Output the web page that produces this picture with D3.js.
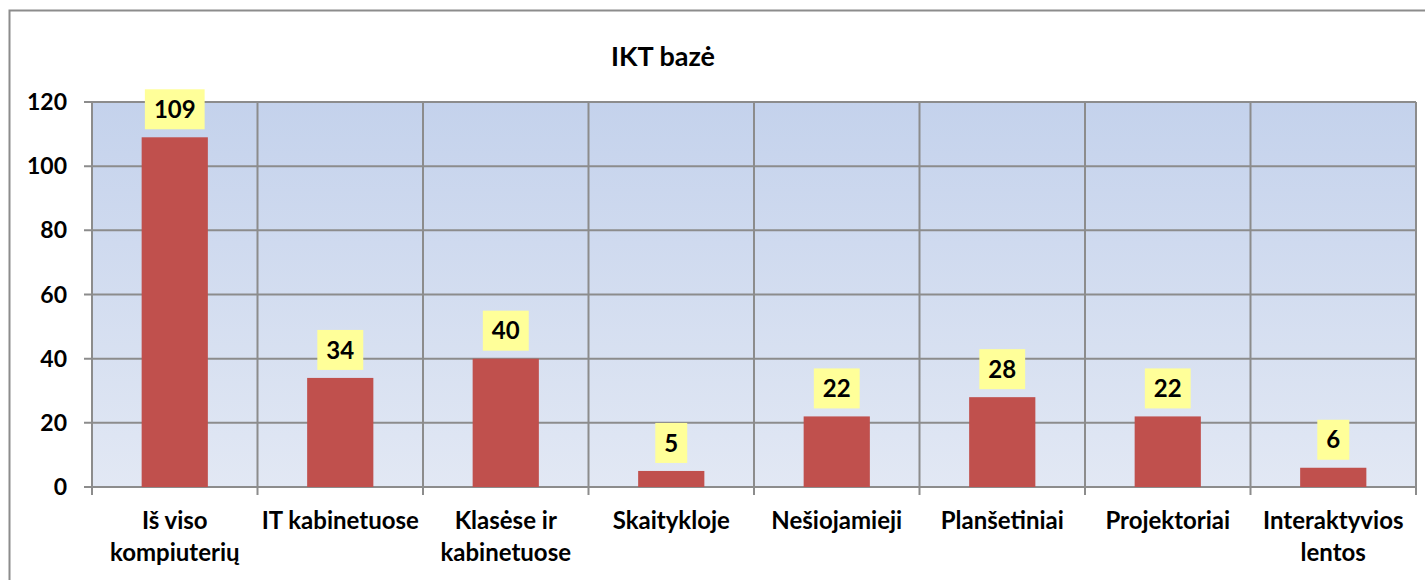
<!DOCTYPE html>
<html>
<head>
<meta charset="utf-8">
<script src="https://cdn.jsdelivr.net/npm/d3@7"></script>
<style>
  body { margin: 0; background: #fff; }
  text { font-family: Lato, "Open Sans", sans-serif; font-weight: bold; fill: #000; }
</style>
</head>
<body>
<div id="chart-area"></div>
<script>
// Data
let categories = [
  ['Iš viso', 'kompiuterių'],
  ['IT kabinetuose'],
  ['Klasėse ir', 'kabinetuose'],
  ['Skaitykloje'],
  ['Nešiojamieji'],
  ['Planšetiniai'],
  ['Projektoriai'],
  ['Interaktyvios', 'lentos']
]
let values = [109, 34, 40, 5, 22, 28, 22, 6]
let yTicks = [0, 20, 40, 60, 80, 100, 120]
let title = 'IKT bazė'

let margin = { left: 92, right: 9, top: 102, bottom: 93 }
let totalW = 1425, totalH = 580
let width = totalW - margin.left - margin.right
let height = totalH - margin.top - margin.bottom

let svg = d3.select('#chart-area').append('svg')
  .attr('width', totalW)
  .attr('height', totalH)

// gradient for plot background
let defs = svg.append('defs')
let grad = defs.append('linearGradient')
  .attr('id', 'bg')
  .attr('x1', 0).attr('y1', 0).attr('x2', 0).attr('y2', 1)
grad.append('stop').attr('offset', '0%').attr('stop-color', '#c4d2ec')
grad.append('stop').attr('offset', '100%').attr('stop-color', '#e2e8f4')

// outer chart border
svg.append('rect')
  .attr('x', 9.5).attr('y', 10.5)
  .attr('width', totalW + 10).attr('height', totalH + 10)
  .attr('fill', 'none')
  .attr('stroke', '#8c8c8c')
  .attr('stroke-width', 2)

svg.append('text')
  .attr('x', 663)
  .attr('y', 66)
  .attr('text-anchor', 'middle')
  .style('font-size', '27px')
  .text(title)

let g = svg.append('g')
  .attr('transform', 'translate(' + margin.left + ', ' + margin.top + ')')

// Scales
let x = d3.scaleBand()
  .domain(d3.range(categories.length))
  .range([0, width])
  .paddingInner(0.6)
  .paddingOuter(0.3)

let bounds = d3.scaleLinear().domain([0, categories.length]).range([0, width])

let y = d3.scaleLinear().domain([0, 120]).range([height, 0])

g.append('rect')
  .attr('width', width)
  .attr('height', height)
  .attr('fill', 'url(#bg)')

// horizontal grid
g.selectAll('.hgrid')
  .data(yTicks)
  .enter().append('line')
  .attr('class', 'hgrid')
  .attr('x1', -8)
  .attr('x2', width)
  .attr('y1', (d) => { return y(d) })
  .attr('y2', (d) => { return y(d) })
  .attr('stroke', '#8c8c8c')
  .attr('stroke-width', 2)

// vertical grid and category ticks
g.selectAll('.vgrid')
  .data(d3.range(categories.length + 1))
  .enter().append('line')
  .attr('class', 'vgrid')
  .attr('x1', (d) => { return bounds(d) })
  .attr('x2', (d) => { return bounds(d) })
  .attr('y1', 0)
  .attr('y2', height + 8)
  .attr('stroke', '#8c8c8c')
  .attr('stroke-width', 2)

// y labels
g.selectAll('.ylab')
  .data(yTicks)
  .enter().append('text')
  .attr('class', 'ylab')
  .attr('x', -25)
  .attr('y', (d) => { return y(d) })
  .attr('dy', '.35em')
  .attr('text-anchor', 'end')
  .style('font-size', '23px')
  .text((d) => { return d })

// bars
g.selectAll('.bar')
  .data(values)
  .enter().append('rect')
  .attr('class', 'bar')
  .attr('x', (d, i) => { return x(i) })
  .attr('width', x.bandwidth())
  .attr('y', (d) => { return y(d) })
  .attr('height', (d) => { return height - y(d) })
  .attr('fill', '#c0504d')

// value labels
let labels = g.selectAll('.vlab')
  .data(values)
  .enter().append('g')
  .attr('class', 'vlab')
  .attr('transform', (d, i) => {
    return 'translate(' + (x(i) + x.bandwidth() / 2) + ', ' + (y(d) - 28) + ')'
  })

labels.append('text')
  .attr('text-anchor', 'middle')
  .attr('dy', '.36em')
  .style('font-size', '24px')
  .text((d) => { return d })

labels.insert('rect', 'text')
  .each(function () {
    let bb = this.parentNode.querySelector('text').getBBox()
    d3.select(this)
      .attr('x', bb.x - 9)
      .attr('y', -20)
      .attr('width', bb.width + 18)
      .attr('height', 40)
  })
  .attr('fill', '#ffff99')

// category labels
g.selectAll('.xlab')
  .data(categories)
  .enter().append('text')
  .attr('class', 'xlab')
  .attr('x', (d, i) => { return x(i) + x.bandwidth() / 2 })
  .attr('y', height + 42)
  .attr('text-anchor', 'middle')
  .style('font-size', '24px')
  .each(function (d) {
    d.forEach((line, k) => {
      d3.select(this).append('tspan')
        .attr('x', d3.select(this).attr('x'))
        .attr('dy', k === 0 ? 0 : 32)
        .text(line)
    })
  })
</script>
</body>
</html>
